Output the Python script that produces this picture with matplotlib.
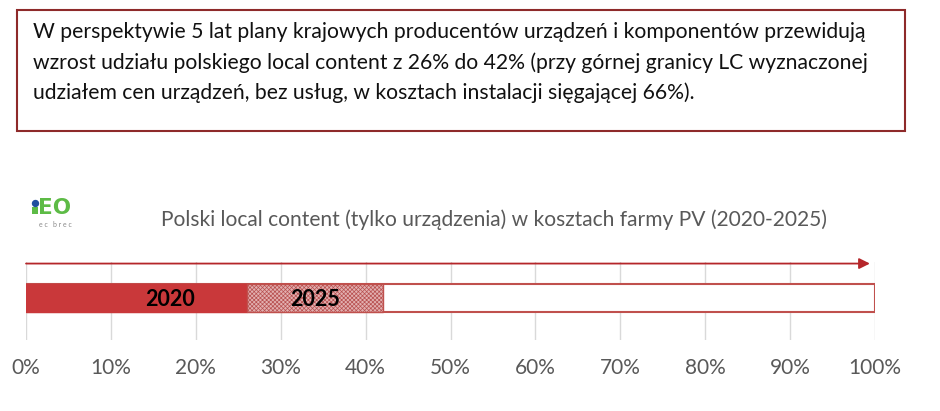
import numpy as np
import matplotlib
matplotlib.use('Agg')
import matplotlib.pyplot as plt
from matplotlib.patches import Rectangle
from matplotlib.lines import Line2D

plt.rcParams['font.family'] = ['Lato', 'DejaVu Sans']
plt.rcParams['hatch.linewidth'] = 0.5

# data
years = ['2020', '2025']
shares = [26, 42]          # local content share (%), cumulative
total = 100
ticks = np.arange(0, 101, 10)
tick_labels = ['%d%%' % t for t in ticks]

title = 'Polski local content (tylko urządzenia) w kosztach farmy PV (2020-2025)'
note = ('W perspektywie 5 lat plany krajowych producentów urządzeń i komponentów przewidują\n'
        'wzrost udziału polskiego local content z 26% do 42% (przy górnej granicy LC wyznaczonej\n'
        'udziałem cen urządzeń, bez usług, w kosztach instalacji sięgającej 66%).')

red = '#C9383A'
edge = '#C0504D'
W, H = 940, 411

fig = plt.figure(figsize=(W/100, H/100), dpi=100)

# note box
fig.patches.append(Rectangle((17/W, 1-131/H), (905-17)/W, (131-10)/H,
                             transform=fig.transFigure, fill=False,
                             ec='#8E2A2A', lw=1.5))
fig.text(33/W, 1-22/H, note, ha='left', va='top', fontsize=15.2,
         color='#111111', linespacing=1.6)

# logo: "i" drawn as stem + dot, then "EO"
green = '#5DBB46'
fig.patches.append(Rectangle((32/W, 1-214/H), 5.5/W, 7/H, transform=fig.transFigure,
                             color=green, lw=0))
fig.add_artist(Line2D([34.8/W], [1-203/H], marker='o', ms=5.3, color='#1F4E9E',
                      mec='none', transform=fig.transFigure))
fig.text(38.5/W, 1-214/H, 'EO', ha='left', va='baseline', fontsize=15.5,
         fontweight='bold', color=green, family='DejaVu Sans')
fig.text(55/W, 1-224/H, 'e c   b r e c', ha='center', va='center', fontsize=5,
         color='#8A8A8A')

# title
fig.text(494/W, 1-220/H, title, ha='center', va='center', fontsize=15.1,
         color='#595959')

ax = fig.add_axes([26/W, 1-340/H, (875-26)/W, (340-262)/H])
ax.set_xlim(0, total)
ax.set_ylim(0, 1)
ax.set_xticks(ticks)
ax.set_xticklabels(tick_labels)
ax.set_yticks([])
ax.tick_params(axis='x', length=0, pad=13, labelsize=15, labelcolor='#595959')
for s in ax.spines.values():
    s.set_visible(False)
for t in ticks:
    ax.axvline(t, color='#D9D9D9', lw=1.0, zorder=0)

yc, h = 0.54, 0.36
ax.barh(yc, total, height=h, left=0, color='white', edgecolor=edge, lw=1.5, zorder=2)
ax.barh(yc, shares[0], height=h, left=0, color=red, edgecolor=red, lw=1.0, zorder=3)
ax.barh(yc, shares[1]-shares[0], height=h, left=shares[0], color='#E2B0B0',
        edgecolor='#B85050', hatch='xxxxxxxx', lw=0.5, zorder=3)
ax.barh(yc, shares[1]-shares[0], height=h, left=shares[0], fill=False,
        edgecolor=edge, lw=1.0, zorder=4)

label_x = [17, 34]
for x, lab in zip(label_x, years):
    ax.text(x, yc - 0.02, lab, ha='center', va='center', fontsize=15.5,
            fontweight='bold', color='black', zorder=5)

# arrow along top
ax.annotate('', xy=(99.4, 0.98), xytext=(0, 0.98),
            arrowprops=dict(arrowstyle='-|>', color='#B5262A', lw=1.3,
                            mutation_scale=16, shrinkA=0, shrinkB=0),
            annotation_clip=False, zorder=6)

fig.savefig('out.png', dpi=100)
